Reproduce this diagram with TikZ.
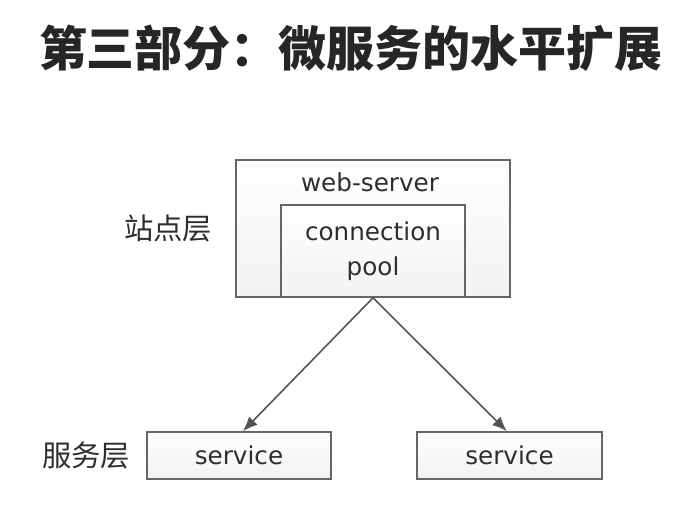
\documentclass[tikz,border=0pt]{standalone}
\usepackage{fontspec}
\setmainfont{DejaVu Sans}
\newfontfamily\cjk{Noto Sans CJK SC}
\usetikzlibrary{arrows.meta}

\definecolor{boxline}{HTML}{666666}
\definecolor{textgray}{HTML}{2E2E2E}
\definecolor{arrowgray}{HTML}{555555}

\begin{document}
\begin{tikzpicture}[x=0.75pt, y=-0.75pt, cap=round,
  box/.style={draw=boxline, line width=1.2pt, top color=white, bottom color=black!5, inner sep=0pt},
  label/.style={text=textgray, font=\fontsize{18.5}{26}\selectfont, align=center},
  layer/.style={text=textgray, font=\cjk\fontsize{22}{26}\selectfont},
  link/.style={draw=arrowgray, line width=1.2pt, -{Latex[length=11pt,width=9pt]}}]

\useasboundingbox (0,0) rectangle (690,507);

\node at (351, 48) [font=\cjk\bfseries\fontsize{36}{40}\selectfont, text=black!85] (title) {第三部分：微服务的水平扩展};

\node at (373, 228.5) [box, minimum width=205.5pt, minimum height=102.75pt] (server) {};
\node at (370, 182) [label] (servertext) {web-server};
\node at (373, 251) [box, minimum width=138pt, minimum height=69pt, label] (pool) {connection\\pool};
\node at (168, 228) [layer] (site) {站点层};

\node at (239, 455.5) [box, minimum width=138pt, minimum height=35.25pt, label] (svcleft) {service};
\node at (509.5, 455.5) [box, minimum width=138.75pt, minimum height=35.25pt, label] (svcright) {service};
\node at (86, 455) [layer] (svclayer) {服务层};

\draw [link] (pool.south) -- ([xshift=3pt]svcleft.north);
\draw [link] (pool.south) -- ([xshift=-2pt]svcright.north);
\end{tikzpicture}
\end{document}
